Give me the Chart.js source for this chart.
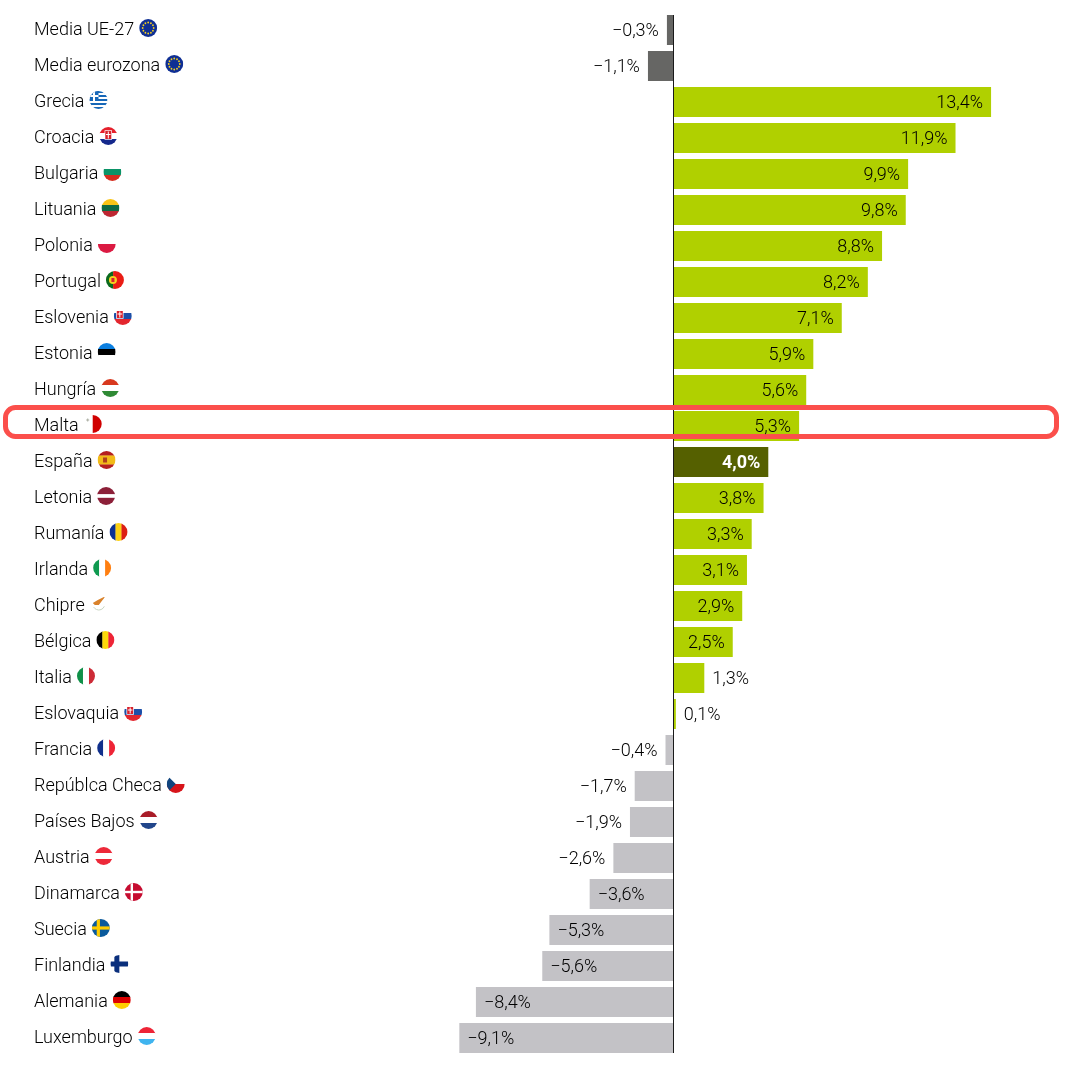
<!DOCTYPE html>
<html lang="es">
<head>
<meta charset="utf-8">
<title>Media UE</title>
<script src="https://cdn.jsdelivr.net/npm/chart.js@4"></script>
<style>
    html, body { margin: 0; padding: 0; background: #fff; }
    canvas { display: block; }
</style>
</head>
<body>
<canvas id="chart" width="1068" height="1072"></canvas>
<script>
const COUNTRIES = [
    'Media UE-27', 'Media eurozona', 'Grecia', 'Croacia', 'Bulgaria', 'Lituania', 'Polonia', 'Portugal',
    'Eslovenia', 'Estonia', 'Hungría', 'Malta', 'España', 'Letonia', 'Rumanía', 'Irlanda', 'Chipre',
    'Bélgica', 'Italia', 'Eslovaquia', 'Francia', 'Repúblca Checa', 'Países Bajos', 'Austria',
    'Dinamarca', 'Suecia', 'Finlandia', 'Alemania', 'Luxemburgo',
];
const VALUES = [
    -0.3, -1.1, 13.4, 11.9, 9.9, 9.8, 8.8, 8.2, 7.1, 5.9, 5.6, 5.3, 4.0, 3.8, 3.3, 3.1, 2.9, 2.5, 1.3, 0.1,
    -0.4, -1.7, -1.9, -2.6, -3.6, -5.3, -5.6, -8.4, -9.1,
];

const GREEN = '#b0d000';
const SPAIN = '#556000';
const AVERAGE = '#666664';
const GRAY = '#c3c2c6';
const FONT = '300 18px Roboto';
const BOLD_FONT = 'bold 18px Roboto';
const TEXT = '#000';

function barColor(name, value) {
    if (name.startsWith('Media')) return AVERAGE;
    if (name === 'España') return SPAIN;
    return value < 0 ? GRAY : GREEN;
}

function formatValue(value) {
    return (value < 0 ? '\u2212' : '') + Math.abs(value).toFixed(1).replace('.', ',') + '%';
}

// Negative bars stop a little short of their nominal length in the reference
function negativeInset(i) {
    if (VALUES[i] >= 0) return 0;
    return COUNTRIES[i].startsWith('Media') ? 0.5 : 1.5;
}

// Flag helpers: all drawn in a 18px box centred on 0,0 and clipped to a circle
function hStripes(ctx, colors, weights) {
    const total = (weights || colors.map(() => 1)).reduce((a, b) => a + b, 0);
    let y = -9;
    colors.forEach((c, i) => {
        const h = 18 * (weights ? weights[i] : 1) / total;
        ctx.fillStyle = c;
        ctx.fillRect(-9, y, 18, h + 0.3);
        y += h;
    });
}
function vStripes(ctx, colors, weights) {
    const total = (weights || colors.map(() => 1)).reduce((a, b) => a + b, 0);
    let x = -9;
    colors.forEach((c, i) => {
        const w = 18 * (weights ? weights[i] : 1) / total;
        ctx.fillStyle = c;
        ctx.fillRect(x, -9, w + 0.3, 18);
        x += w;
    });
}
function cross(ctx, bg, fg, w, cx) {
    ctx.fillStyle = bg;
    ctx.fillRect(-9, -9, 18, 18);
    ctx.fillStyle = fg;
    ctx.fillRect(cx - w / 2, -9, w, 18);
    ctx.fillRect(-9, -w / 2, 18, w);
}
function shield(ctx, x, y, w, h, bg, fg) {
    ctx.fillStyle = '#fff';
    ctx.fillRect(x - w / 2 - 0.7, y - h / 2 - 0.7, w + 1.4, h + 1.4);
    ctx.fillStyle = bg;
    ctx.fillRect(x - w / 2, y - h / 2, w, h);
    ctx.fillStyle = fg;
    ctx.fillRect(x - 0.5, y - h / 2 + 0.5, 1, h - 1);
    ctx.fillRect(x - w / 2 + 0.7, y - 1, w - 1.4, 1);
}
function euFlag(ctx) {
    ctx.fillStyle = '#0f2f94';
    ctx.fillRect(-9, -9, 18, 18);
    ctx.fillStyle = '#f5d020';
    for (let i = 0; i < 12; i++) {
        const a = i * Math.PI / 6;
        ctx.beginPath();
        ctx.arc(Math.cos(a) * 5.5, Math.sin(a) * 5.5, 0.9, 0, Math.PI * 2);
        ctx.fill();
    }
}
function slovakFlag(ctx) {
    hStripes(ctx, ['#fff', '#1c4fa8', '#e3262e']);
    shield(ctx, -3, -1.5, 6, 7, '#d8202c', '#fff');
}

const FLAGS = {
    'Media UE-27': euFlag,
    'Media eurozona': euFlag,
    'Grecia': ctx => {
        hStripes(ctx, ['#1667b8', '#fff', '#1667b8', '#fff', '#1667b8', '#fff', '#1667b8', '#fff', '#1667b8']);
        ctx.fillStyle = '#1667b8';
        ctx.fillRect(-9, -9, 9, 10);
        ctx.fillStyle = '#fff';
        ctx.fillRect(-5.5, -9, 2, 10);
        ctx.fillRect(-9, -5, 9, 2);
    },
    'Croacia': ctx => {
        hStripes(ctx, ['#e5202c', '#fff', '#14288c']);
        shield(ctx, 0, -1, 6, 8, '#d8202c', '#fff');
    },
    'Bulgaria': ctx => hStripes(ctx, ['#fff', '#0b9367', '#d62d1e']),
    'Lituania': ctx => hStripes(ctx, ['#f9c416', '#0f6a44', '#bd2732']),
    'Polonia': ctx => hStripes(ctx, ['#fff', '#db1a42']),
    'Portugal': ctx => {
        vStripes(ctx, ['#0b6a1e', '#ea1c14'], [2, 3]);
        ctx.fillStyle = '#f5d020';
        ctx.beginPath();
        ctx.arc(-2, 0, 4, 0, Math.PI * 2);
        ctx.fill();
        ctx.fillStyle = '#d8202c';
        ctx.fillRect(-3.5, -2, 3, 4);
    },
    'Eslovenia': slovakFlag,
    'Estonia': ctx => hStripes(ctx, ['#0b7fe0', '#000', '#fff']),
    'Hungría': ctx => hStripes(ctx, ['#d8381e', '#fff', '#2f8a35']),
    'Malta': ctx => {
        vStripes(ctx, ['#fff', '#d00000']);
        ctx.fillStyle = '#a8aca0';
        ctx.fillRect(-6.5, -4.5, 3, 1);
        ctx.fillRect(-5.5, -5.5, 1, 3);
    },
    'España': ctx => {
        hStripes(ctx, ['#b51f1f', '#f2bb18', '#b51f1f'], [1, 2, 1]);
        ctx.fillStyle = '#b0401c';
        ctx.fillRect(-3.5, -2.5, 4, 5);
    },
    'Letonia': ctx => hStripes(ctx, ['#8c1f38', '#fff', '#8c1f38'], [2, 1, 2]),
    'Rumanía': ctx => vStripes(ctx, ['#0a2f94', '#fcd116', '#dc1f14']),
    'Irlanda': ctx => vStripes(ctx, ['#0f9a50', '#fff', '#ff7f10']),
    'Chipre': ctx => {
        ctx.fillStyle = '#fff';
        ctx.fillRect(-9, -9, 18, 18);
        ctx.fillStyle = '#d9822b';
        ctx.beginPath();
        ctx.moveTo(-6, -1);
        ctx.lineTo(-1, -4);
        ctx.lineTo(7, -8);
        ctx.lineTo(3, -3);
        ctx.lineTo(0, 1);
        ctx.lineTo(-4, 1);
        ctx.closePath();
        ctx.fill();
        ctx.strokeStyle = '#c8d4c0';
        ctx.lineWidth = 1;
        ctx.beginPath();
        ctx.arc(0, 0, 6, 0.4, 2.6);
        ctx.stroke();
    },
    'Bélgica': ctx => vStripes(ctx, ['#000', '#fcd80a', '#ee2436']),
    'Italia': ctx => vStripes(ctx, ['#0f9048', '#fff', '#cd2b37']),
    'Eslovaquia': slovakFlag,
    'Francia': ctx => vStripes(ctx, ['#10308c', '#fff', '#ee2436']),
    'Repúblca Checa': ctx => {
        hStripes(ctx, ['#fff', '#d7141a']);
        ctx.fillStyle = '#11457e';
        ctx.beginPath();
        ctx.moveTo(-9, -9);
        ctx.lineTo(0, 0);
        ctx.lineTo(-9, 9);
        ctx.closePath();
        ctx.fill();
    },
    'Países Bajos': ctx => hStripes(ctx, ['#a91c28', '#fff', '#21468b']),
    'Austria': ctx => hStripes(ctx, ['#ed2939', '#fff', '#ed2939']),
    'Dinamarca': ctx => cross(ctx, '#c60c30', '#fff', 2.4, -2),
    'Suecia': ctx => cross(ctx, '#0a5a9c', '#fecc00', 3.2, -2.5),
    'Finlandia': ctx => cross(ctx, '#fff', '#0a2f7c', 5, -2.5),
    'Alemania': ctx => hStripes(ctx, ['#000', '#dd0000', '#ffce00']),
    'Luxemburgo': ctx => hStripes(ctx, ['#ee2436', '#fff', '#3fb4ef']),
};

const overlayPlugin = {
    id: 'overlay',
    afterDraw(chart) {
        const { ctx, scales: { x, y } } = chart;
        const zero = x.getPixelForValue(0);

        // Zero line
        ctx.save();
        ctx.fillStyle = '#1a1a1a';
        ctx.fillRect(Math.floor(zero), 15, 1, 1038);

        // Highlight around Malta, under the value labels
        ctx.strokeStyle = '#fb4f4b';
        ctx.lineWidth = 5;
        ctx.beginPath();
        ctx.roundRect(5.5, 407.5, 1051, 29, 10);
        ctx.stroke();

        // Value labels: inside the bar when they fit, otherwise next to it
        ctx.textBaseline = 'middle';
        VALUES.forEach((value, i) => {
            const end = x.getPixelForValue(value) + negativeInset(i);
            const rowY = y.getPixelForValue(i) + 1.5;
            const text = formatValue(value);
            const isSpain = COUNTRIES[i] === 'España';
            ctx.font = isSpain ? BOLD_FONT : FONT;
            ctx.fillStyle = isSpain ? '#fff' : TEXT;
            const width = ctx.measureText(text).width;
            const inside = Math.abs(end - zero) > width + 16;
            if (value >= 0) {
                ctx.textAlign = inside ? 'right' : 'left';
                ctx.fillText(text, inside ? end - 8 : end + 8, rowY);
            } else {
                ctx.textAlign = inside ? 'left' : 'right';
                ctx.fillText(text, inside ? end + 8 : end - 8, rowY);
            }
        });

        // Flags sit right after each country name
        ctx.font = FONT;
        COUNTRIES.forEach((name, i) => {
            const cx = x.left + ctx.measureText(name).width + 5 + 9;
            const cy = y.getPixelForValue(i) - 2;
            ctx.save();
            ctx.translate(cx, cy);
            ctx.beginPath();
            ctx.arc(0, 0, 9, 0, Math.PI * 2);
            ctx.clip();
            FLAGS[name](ctx);
            ctx.restore();
        });
        ctx.restore();
    },
};

new Chart(document.getElementById('chart'), {
    type: 'bar',
    data: {
        labels: COUNTRIES,
        datasets: [{
            data: VALUES,
            backgroundColor: VALUES.map((v, i) => barColor(COUNTRIES[i], v)),
            borderColor: '#fff',
            borderWidth: VALUES.map((v, i) => ({ left: negativeInset(i), top: 0, right: 0, bottom: 0 })),
            categoryPercentage: 30 / 36,
            barPercentage: 1,
        }],
    },
    options: {
        indexAxis: 'y',
        responsive: false,
        animation: false,
        devicePixelRatio: 1,
        layout: { padding: { top: 12, bottom: 16, left: 34, right: 0 } },
        plugins: { legend: { display: false }, tooltip: { enabled: false } },
        scales: {
            x: { display: false, min: -26.983, max: 16.646 },
            y: {
                grid: { display: false },
                border: { display: false },
                afterFit(scale) { scale.width = 0; },
                ticks: {
                    mirror: true,
                    padding: 0,
                    autoSkip: false,
                    labelOffset: 0,
                    color: TEXT,
                    font: { family: 'Roboto', size: 18, weight: '300' },
                },
            },
        },
    },
    plugins: [overlayPlugin],
});
</script>
</body>
</html>
